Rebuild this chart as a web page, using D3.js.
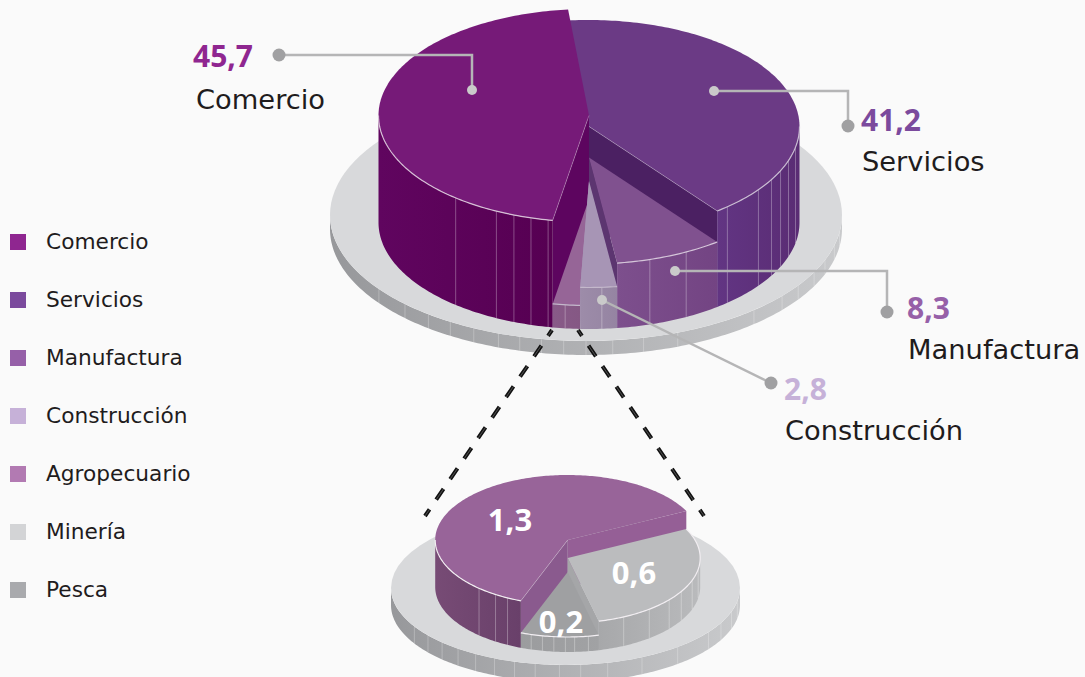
<!DOCTYPE html>
<html><head><meta charset="utf-8">
<script src="https://cdn.jsdelivr.net/npm/d3@7/dist/d3.min.js"></script>
<style>html,body{margin:0;padding:0;background:#fafafa}svg{display:block}text{font-family:"DejaVu Sans",sans-serif}</style>
</head><body><svg id="c" width="1085" height="677"></svg>
<script>
// DATA
const legendLabels = ["Comercio","Servicios","Manufactura","Construcción","Agropecuario","Minería","Pesca"];
const legendColors = ["#8f2690","#7b4a9d","#9660a8","#c6b1d8","#b27ab2","#d3d4d6","#a9aaad"];
const mainNames  = ["Servicios","Manufactura","Construcción","Resto","Comercio"];
const mainValues = [41.2,8.3,2.8,2.1,45.7];
const insetNames  = ["Agropecuario","Minería","Pesca"];
const insetValues = [1.3,0.6,0.2];

// LAYOUT
const svg = d3.select("#c");
const rad = d => d*Math.PI/180;
const mainPie = d3.pie().sort(null).value(d=>d.v).startAngle(rad(-5.7)).endAngle(rad(354.3));
const insetPie = d3.pie().sort(null).value(d=>d.v).startAngle(rad(200.7)).endAngle(rad(560.7));
const mainGeo = {cx:589, base:222.5, rx:210.5, ry:106.5};
const insetGeo = {cx:567.7, base:587, rx:132.5, ry:65};
const mainStyle = {
 Servicios:{rise:96,top:"#6b3a85",side:["#5a2c74","#623583"],wall:"#4b2062",wallAt:"end"},
 Manufactura:{rise:65,top:"#80518f",side:["#734483","#7d4f8d"],wall:"#5c3570",wallAt:"end"},
 "Construcción":{rise:41.5,top:"#a795b5",side:["#9584a2","#9d8ca9"],wall:"#a795b5",wallAt:"end"},
 Resto:{rise:23.5,top:"#966597",side:["#855884","#885a88"]},
 Comercio:{rise:107,top:"#761a78",side:["#560052","#60055f"],wall:"#5d055f",wallAt:"start"}
};
const insetStyle = {
 Agropecuario:{rise:47,top:"#986499",side:["#69406a","#774b75"],wall:"#8a5a8e",wallAt:"start",wall2:"#955f96"},
 "Minería":{rise:29,top:"#bbbcbe",side:["#b9babc","#a7a8aa"],wall:"#a5a6a8",wallAt:"end"},
 Pesca:{rise:15,top:"#9fa0a2",side:["#a1a2a4","#9b9c9e"]}
};
const mainFacets = {
 Servicios:[138.9,126.4,119.9,114.5,108.6,101.2],
 Manufactura:[163.2,152.5],
 "Construcción":[176.5],
 Resto:[186.5],
 Comercio:[219.3,206.1,200.9,196,191.2]
};
const insetFacets = {
 Agropecuario:[222,213,207],
 "Minería":[155,142,130,121,110,100],
 Pesca:[196,191,186,181,177,171]
};
const basePlates = [
 {cx:586,cy:215,rx:256,ry:126,t:14,id:"b1",facets:[234,225,218,212,206,200,195,190,185,180,174,167,159,139,130,124,117,111,104,98]},
 {cx:565.5,cy:588,rx:174.5,ry:77,t:17,id:"b2",facets:[240,232,225,218,211,204,197,190,182,175,166,154,140,125,117,108,100]}
];

const defs = svg.append("defs");
let gid = 0;
function grad(x1,x2,c1,c2){
  const id="g"+(gid++);
  const g=defs.append("linearGradient").attr("id",id).attr("gradientUnits","userSpaceOnUse")
    .attr("x1",x1).attr("x2",x2).attr("y1",0).attr("y2",0);
  g.append("stop").attr("offset",0).attr("stop-color",c1);
  g.append("stop").attr("offset",1).attr("stop-color",c2);
  return "url(#"+id+")";
}
const line = d3.line();
function pt(g,deg,cy){ return [g.cx+g.rx*Math.sin(rad(deg)), cy-g.ry*Math.cos(rad(deg))]; }
function arcPts(g,a,b,cy){ const n=Math.max(2,Math.ceil(Math.abs(b-a)));
  return d3.range(n+1).map(i=>pt(g,a+(b-a)*i/n,cy)); }
function drawSlice(layer,g,d,st,facets,opts){
  let a0=d.startAngle*180/Math.PI, a1=d.endAngle*180/Math.PI; const cy=g.base-st.rise;
  if(a0>=360){a0-=360;a1-=360;}
  // walls
  if(st.wall){
    const drawWall=(ang,col)=>{
      const p=pt(g,ang,cy);
      layer.append("path").attr("fill",col).attr("d",line([[g.cx,cy],p,[p[0],g.base-g.ry*Math.cos(rad(ang))],[g.cx,g.base]])+"Z");
    };
    if(st.wall2) drawWall(a1,st.wall2);
    drawWall(st.wallAt==="end"?a1:a0,st.wall);
  }
  // outer side: visible part of the arc only
  const s0=Math.max(a0,90), s1=Math.min(a1,270);
  if(s1>s0){
    const top=arcPts(g,s0,s1,cy), bot=arcPts(g,s1,s0,g.base);
    const xs=top.map(p=>p[0]);
    layer.append("path").attr("fill",grad(d3.min(xs),d3.max(xs),st.side[1],st.side[0]))
      .attr("d",line(top.concat(bot))+"Z");
    (facets||[]).forEach(f=>{
      const p=pt(g,f,cy), q=pt(g,f,g.base);
      layer.append("path").attr("d",line([p,q])).attr("stroke","rgba(255,255,255,.3)").attr("stroke-width",1).attr("fill","none");
    });
  }
  // top
  const arc=arcPts(g,a0,a1,cy);
  layer.append("path").attr("fill",st.top).attr("d",line([[g.cx,cy]].concat(arc))+"Z");
  // rim
  const r0=Math.max(a0,opts.rimFrom||90), r1=Math.min(a1,270);
  if(r1>r0) layer.append("path").attr("fill","none").attr("stroke",opts.rim).attr("stroke-width",1.2)
     .attr("d",line(arcPts(g,r0,r1,cy)));
  if(opts.edge) layer.append("path").attr("fill","none").attr("stroke","rgba(255,255,255,.35)").attr("stroke-width",.8)
     .attr("d",line([[g.cx,cy],pt(g,st.wallAt==="end"?a1:a0,cy)]));
}

// background plates
basePlates.forEach(b=>{
  const g={cx:b.cx,rx:b.rx,ry:b.ry};
  const top=arcPts(g,90,270,b.cy), bot=arcPts(g,270,90,b.cy+b.t);
  svg.append("path").attr("fill",grad(b.cx-b.rx,b.cx+b.rx,"#97989b","#c9cacc")).attr("d",line(top.concat(bot))+"Z");
  b.facets.forEach(f=>{
    svg.append("path").attr("d",line([pt(g,f,b.cy),pt(g,f,b.cy+b.t)])).attr("stroke","rgba(255,255,255,.25)").attr("stroke-width",1);
  });
  svg.append("ellipse").attr("cx",b.cx).attr("cy",b.cy).attr("rx",b.rx).attr("ry",b.ry).attr("fill","#d8d9db");
});

// main pie
const md = mainPie(mainNames.map((n,i)=>({n,v:mainValues[i]})));
const mainLayer = svg.append("g");
const mainOrder = ["Servicios","Comercio","Resto","Manufactura","Construcción"];
mainOrder.forEach(n=>{
  const d=md.find(x=>x.data.n===n);
  const rim = n==="Comercio"?"#d6bfd6":n==="Servicios"?"#c9bcd2":n==="Manufactura"?"#d5c6da":"#c4b8cb";
  drawSlice(mainLayer,mainGeo,d,mainStyle[n],mainFacets[n],{rim,edge:n==="Servicios"||n==="Comercio"});
});

// dashed connectors
const connectors = [[[552,330],[425,516]],[[578,330],[704,516]]];
connectors.forEach(c=>{
  svg.append("path").attr("d",line(c)).attr("stroke","#111").attr("stroke-width",4).attr("stroke-dasharray","13 11.8").attr("stroke-dashoffset",6).attr("fill","none");
  svg.append("path").attr("d",line(c)).attr("stroke","rgba(255,255,255,.35)").attr("stroke-width",.8).attr("stroke-dasharray","13 11.8").attr("stroke-dashoffset",6).attr("fill","none");
});

// inset pie
const id = insetPie(insetNames.map((n,i)=>({n,v:insetValues[i]})));
const insetLayer = svg.append("g");
["Agropecuario","Minería","Pesca"].forEach(n=>{
  const d=id.find(x=>x.data.n===n);
  drawSlice(insetLayer,insetGeo,d,insetStyle[n],insetFacets[n],{rim:"#f2eef2",rimFrom:n==="Minería"?60:90,edge:n==="Agropecuario"});
});

// leader lines
const leaders = [
 {pts:[[279,55],[472,55],[472,90]]},
 {pts:[[714,91],[848,91],[848,126]],outer:1},
 {pts:[[675,271],[887,271],[887,312]],outer:1},
 {pts:[[602,300],[771,383]],outer:1}
];
leaders.forEach(l=>{
  svg.append("path").attr("d",line(l.pts)).attr("fill","none").attr("stroke","#b5b5b6").attr("stroke-width",2.5);
  const first=l.pts[0], last=l.pts[l.pts.length-1];
  const outer = l.outer? last:first, inner = l.outer? first:last;
  svg.append("circle").attr("cx",outer[0]).attr("cy",outer[1]).attr("r",6.5).attr("fill","#a0a0a2");
  svg.append("circle").attr("cx",inner[0]).attr("cy",inner[1]).attr("r",5).attr("fill","#cacaca");
});

// callouts
const callouts = [
 {v:"45,7",n:"Comercio",vx:193,vy:67,nx:196,ny:109,c:"#8f2690"},
 {v:"41,2",n:"Servicios",vx:861,vy:131,nx:862,ny:171,c:"#7b4a9d"},
 {v:"8,3",n:"Manufactura",vx:907,vy:319,nx:908,ny:359,c:"#9660a8"},
 {v:"2,8",n:"Construcción",vx:784,vy:400,nx:785,ny:440,c:"#c6b1d8"}
];
callouts.forEach(c=>{
  svg.append("text").attr("x",c.vx).attr("y",c.vy).attr("font-size",30).attr("font-weight",700).style("font-family","'Noto Sans'").attr("fill",c.c).text(c.v);
  svg.append("text").attr("x",c.nx).attr("y",c.ny).attr("font-size",27.3).attr("fill","#1f1c1d").text(c.n);
});
// inset labels
const insetLabels=[["1,3",510,531],["0,6",634,584],["0,2",561,633]];
insetLabels.forEach(l=>svg.append("text").attr("x",l[1]).attr("y",l[2]).attr("text-anchor","middle").attr("font-size",31).attr("font-weight",700).style("font-family","'Noto Sans'").attr("fill","#fff").text(l[0]));

// legend
const ly = d3.scalePoint().domain(legendLabels).range([242,590]);
legendLabels.forEach((n,i)=>{
  svg.append("rect").attr("x",10).attr("y",ly(n)-8).attr("width",16).attr("height",16).attr("fill",legendColors[i]);
  svg.append("text").attr("x",46).attr("y",ly(n)+7).attr("font-size",21.7).attr("fill","#1f1c1d").text(n);
});
</script></body></html>
